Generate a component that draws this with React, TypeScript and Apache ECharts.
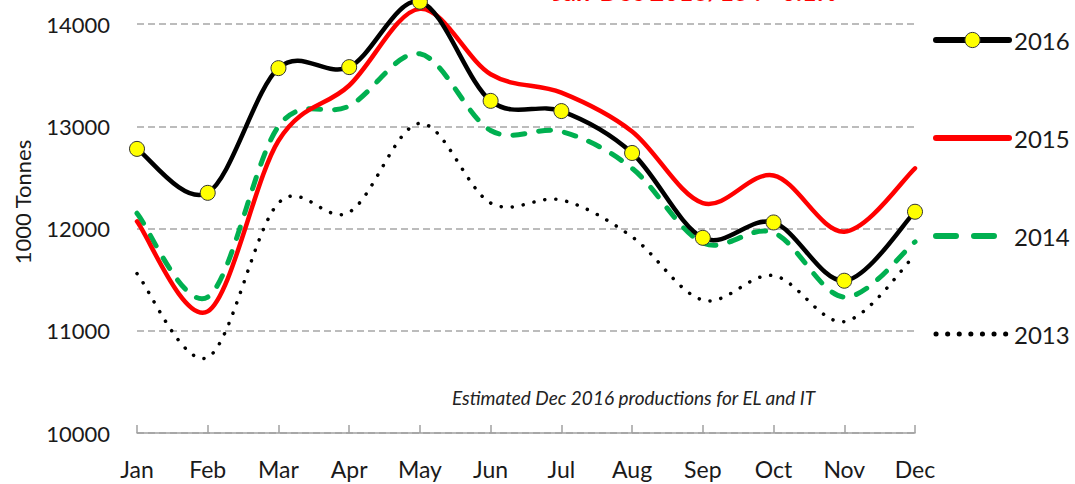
import React, { useEffect, useRef } from "react";
import * as echarts from "echarts";

const months = ["Jan", "Feb", "Mar", "Apr", "May", "Jun", "Jul", "Aug", "Sep", "Oct", "Nov", "Dec"];
const y2016 = [12780, 12350, 13570, 13580, 14220, 13250, 13150, 12740, 11910, 12060, 11490, 12165];
const y2015 = [12070, 11190, 12860, 13400, 14150, 13510, 13330, 12950, 12250, 12520, 11970, 12590];
const y2014 = [12150, 11330, 13000, 13200, 13710, 12960, 12950, 12590, 11860, 11960, 11330, 11870];
const y2013 = [11560, 10740, 12250, 12160, 13030, 12250, 12280, 11920, 11300, 11540, 11090, 11740];

const FONT = "Lato, 'Liberation Sans', sans-serif";

// Excel-like smoothed curve drawn through the axis scales (Catmull-Rom style Bezier)
function curve(values: number[], stroke: string, lineWidth: number, lineDash: number[] | null, z: number) {
  return {
    type: "custom",
    coordinateSystem: "cartesian2d",
    data: values.map((v, i) => [i, v]),
    encode: { x: 0, y: 1 },
    silent: true,
    clip: false,
    z,
    renderItem: (params: any, api: any) => {
      if (params.dataIndex !== 0) return null;
      const pts = values.map((v, i) => api.coord([i, v]));
      const n = pts.length;
      let d = `M${pts[0][0]},${pts[0][1]}`;
      for (let i = 0; i < n - 1; i++) {
        const p0 = pts[Math.max(i - 1, 0)];
        const p1 = pts[i];
        const p2 = pts[i + 1];
        const p3 = pts[Math.min(i + 2, n - 1)];
        const c1x = p1[0] + (p2[0] - p0[0]) / 6;
        const c1y = p1[1] + (p2[1] - p0[1]) / 6;
        const c2x = p2[0] - (p3[0] - p1[0]) / 6;
        const c2y = p2[1] - (p3[1] - p1[1]) / 6;
        d += ` C${c1x},${c1y} ${c2x},${c2y} ${p2[0]},${p2[1]}`;
      }
      return {
        type: "path",
        shape: { pathData: d },
        style: {
          fill: "none",
          stroke,
          lineWidth,
          lineDash: lineDash || undefined,
          lineCap: "round",
          lineJoin: "round",
        },
      };
    },
  };
}

export default function App() {
  const ref = useRef<HTMLDivElement>(null);
  useEffect(() => {
    if (!ref.current) return;
    const chart = echarts.init(ref.current, undefined, { renderer: "svg" });
    chart.setOption({
      animation: false,
      backgroundColor: "#ffffff",
      textStyle: { fontFamily: FONT },
      grid: { left: 137, right: 160, top: -78, bottom: 51, outerBoundsMode: "none", containLabel: false },
      xAxis: {
        type: "category",
        data: months,
        boundaryGap: false,
        axisLine: { lineStyle: { color: "#a0a0a0", width: 1.5 } },
        axisTick: { inside: true, length: 8, lineStyle: { color: "#a0a0a0", width: 1.5 } },
        axisLabel: { fontSize: 23, color: "#1a1a1a", margin: 24, fontFamily: FONT },
      },
      yAxis: {
        type: "value",
        min: 10000,
        max: 15000,
        interval: 1000,
        axisLine: { show: false },
        axisTick: { show: false },
        axisLabel: {
          fontSize: 22,
          color: "#1a1a1a",
          margin: 27,
          fontFamily: FONT,
          formatter: (v: number) => String(v),
        },
        splitLine: { lineStyle: { color: "#a6a6a6", width: 1.5, type: [7, 4] } },
      },
      legend: {
        orient: "vertical",
        left: 928,
        top: 23,
        itemWidth: 73,
        itemHeight: 19,
        itemGap: 74,
        textStyle: { fontSize: 24, color: "#1a1a1a", fontFamily: FONT, lineHeight: 24 },
        data: [
          {
            name: "2016",
            itemStyle: { color: "#ffff00", borderColor: "#333333", borderWidth: 1, opacity: 1 },
            lineStyle: { color: "#000000", width: 6, opacity: 1, type: "solid", cap: "round" },
          },
          {
            name: "2015",
            itemStyle: { opacity: 0 },
            lineStyle: { color: "#ff0000", width: 6, opacity: 1, type: "solid", cap: "round" },
          },
          {
            name: "2014",
            itemStyle: { opacity: 0 },
            lineStyle: { color: "#00b050", width: 6, opacity: 1, type: [20, 18], cap: "round" },
          },
          {
            name: "2013",
            itemStyle: { opacity: 0 },
            lineStyle: { color: "#000000", width: 5, opacity: 1, type: [0.1, 11.5], cap: "round" },
          },
        ],
      },
      graphic: [
        {
          type: "text",
          x: 22,
          y: 202,
          rotation: Math.PI / 2,
          style: {
            text: "1000 Tonnes",
            font: "22px " + FONT,
            fill: "#1a1a1a",
            align: "center",
            verticalAlign: "middle",
          },
        },
        {
          type: "text",
          x: 452,
          y: 397,
          style: {
            text: "Estimated Dec 2016 productions for EL and IT",
            font: "italic 19px " + FONT,
            fill: "#222222",
            align: "left",
            verticalAlign: "middle",
          },
        },
        {
          type: "text",
          x: 695,
          y: 3,
          style: {
            text: "Jan-Dec 2016/15 : +0.1%",
            font: "bold 25px " + FONT,
            fill: "#ff0000",
            align: "center",
            verticalAlign: "bottom",
          },
        },
      ],
      series: [
        curve(y2013, "#000000", 3.5, [0.1, 11], 2),
        curve(y2014, "#00b050", 5, [12, 14], 3),
        curve(y2015, "#ff0000", 4.5, null, 4),
        curve(y2016, "#000000", 4.5, null, 5),
        {
          name: "2013",
          type: "line",
          data: y2013,
          symbol: "none",
          lineStyle: { color: "#000000", opacity: 0, width: 0 },
          itemStyle: { color: "#000000" },
          z: 1,
        },
        {
          name: "2014",
          type: "line",
          data: y2014,
          symbol: "none",
          lineStyle: { color: "#00b050", opacity: 0, width: 0 },
          itemStyle: { color: "#00b050" },
          z: 1,
        },
        {
          name: "2015",
          type: "line",
          data: y2015,
          symbol: "none",
          lineStyle: { color: "#ff0000", opacity: 0, width: 0 },
          itemStyle: { color: "#ff0000" },
          z: 1,
        },
        {
          name: "2016",
          type: "line",
          data: y2016,
          symbol: "circle",
          symbolSize: 15,
          showSymbol: true,
          lineStyle: { color: "#000000", opacity: 0, width: 0 },
          itemStyle: { color: "#ffff00", borderColor: "#333333", borderWidth: 1 },
          z: 10,
        },
      ],
    });
    return () => chart.dispose();
  }, []);
  return (
    <div
      ref={ref}
      style={{ position: "fixed", left: 0, top: 0, width: 1075, height: 484 }}
    />
  );
}
